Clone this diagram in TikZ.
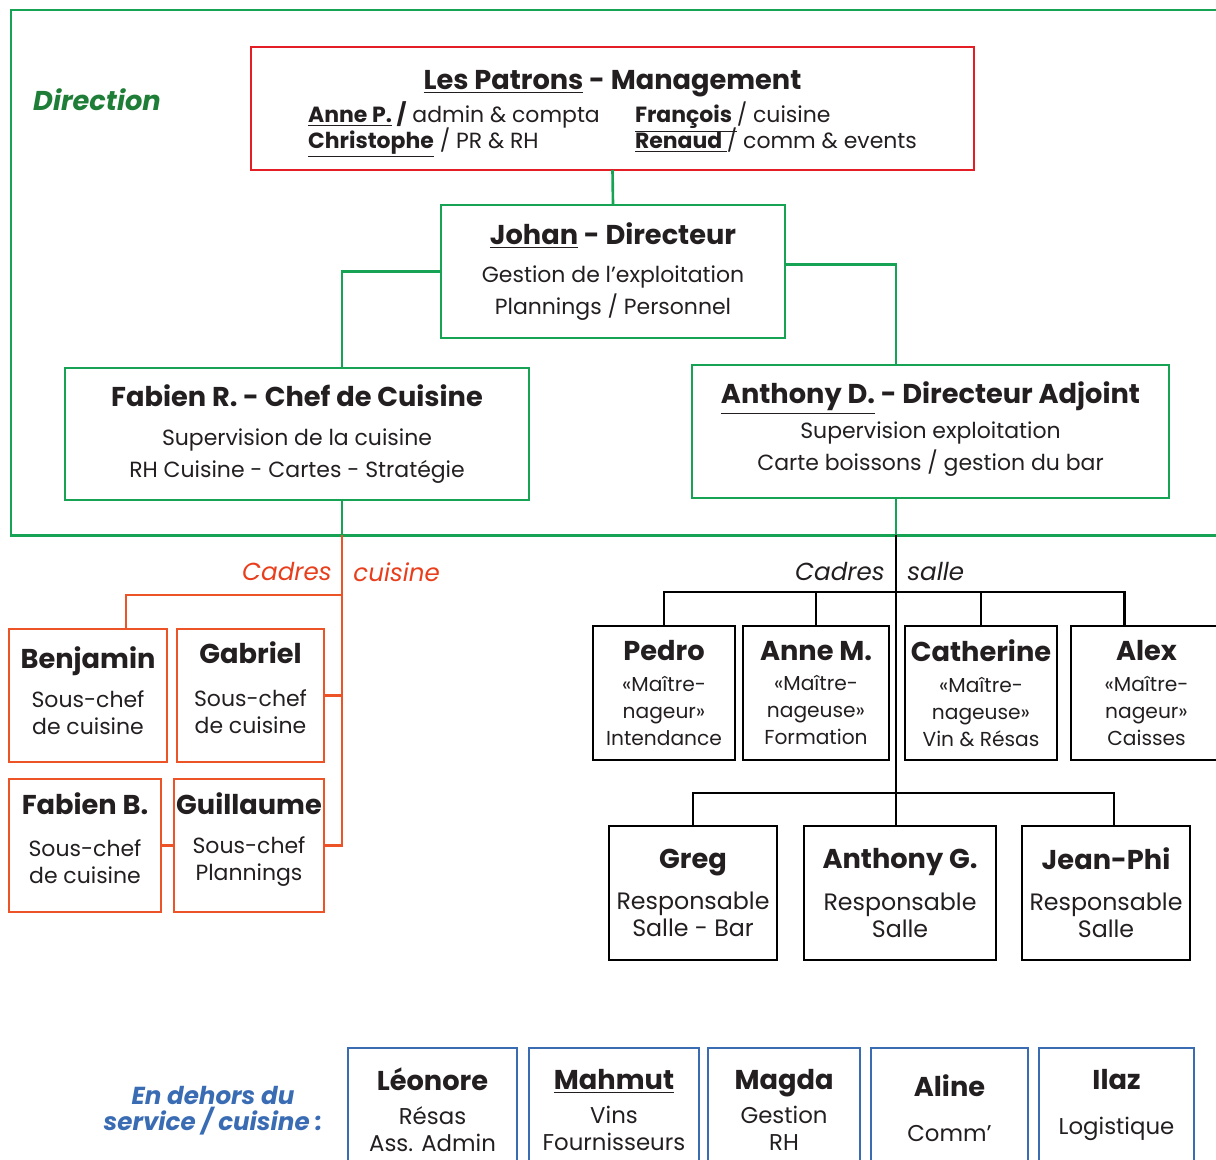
\documentclass[tikz,border=0pt]{standalone}
\usepackage{fontspec}
\setmainfont{Poppins}
\usetikzlibrary{calc}

\definecolor{dirgreen}{RGB}{22,163,84}
\definecolor{dirlabel}{RGB}{30,125,55}
\definecolor{patronred}{RGB}{227,30,36}
\definecolor{cuisred}{RGB}{236,84,40}
\definecolor{cuislabel}{RGB}{232,62,28}
\definecolor{horsblue}{RGB}{58,108,180}
\definecolor{textgray}{RGB}{35,31,32}

\newcommand{\boxtitle}[1]{{\fontsize{15.5}{18}\selectfont\bfseries #1}}

\begin{document}
\begin{tikzpicture}[x=0.02cm, y=-0.02cm,
  boxsize/.style 2 args={minimum width=#1*0.02cm, minimum height=#2*0.02cm},
  orgbox/.style={draw, line width=1.6pt, inner sep=0pt, outer sep=0pt, align=center,
    text=textgray, font=\fontsize{12.5}{15.4}\selectfont},
  dirbox/.style={orgbox, draw=dirgreen, font=\fontsize{12.5}{18}\selectfont},
  cuisbox/.style={orgbox, draw=cuisred},
  sallebox/.style={orgbox, draw=black},
  horsbox/.style={orgbox, draw=horsblue, font=\fontsize{13}{15.4}\selectfont},
  dirline/.style={draw=dirgreen, line width=1.5pt},
  cuisline/.style={draw=cuisred, line width=1.5pt},
  salleline/.style={draw=black, line width=1.5pt},
  sectlabel/.style={inner sep=0pt, font=\fontsize{14}{16}\selectfont\itshape}]
\useasboundingbox (0,0) rectangle (1216,1159);
\clip (0,0) rectangle (1216,1159);

\draw[dirline, line width=1.7pt] (11,10) rectangle (1240,535);
\node[sectlabel, text=dirlabel, font=\fontsize{15.5}{18}\selectfont\bfseries\itshape] (direction) at (97,100) {Direction};

\node[dirbox, draw=patronred, font=\fontsize{12.5}{15}\selectfont, boxsize={723}{123}] (patrons) at (612.5,108.5)
  {\rule{0pt}{17.5pt}\boxtitle{\underline{Les Patrons} - Management}\\[1.5pt]
   \begin{tabular}[t]{@{}l@{\hspace{20pt}}l@{}}
   \textbf{\underline{Anne P.} /} admin \& compta & \textbf{\underline{François\ }}/ cuisine\\[-2.5pt]
   \textbf{\underline{Christophe}} / PR \& RH & \textbf{\underline{Renaud\ }}/ comm \& events
   \end{tabular}};
\node[dirbox, boxsize={344}{133}] (johan) at (613,271.5)
  {\boxtitle{\underline{Johan} - Directeur}\\[4pt] Gestion de l’exploitation\\ Plannings / Personnel};
\node[dirbox, boxsize={464}{132}] (fabienR) at (297,434)
  {\boxtitle{Fabien R. - Chef de Cuisine}\\[4pt] Supervision de la cuisine\\ RH Cuisine - Cartes - Stratégie};
\node[dirbox, boxsize={477}{133}] (anthonyD) at (930.5,431.5)
  {\boxtitle{\underline{Anthony D.} - Directeur Adjoint}\\[2pt] Supervision exploitation\\ Carte boissons / gestion du bar\\[-12pt]};

\coordinate (cuisx) at (342,535);
\coordinate (cuisbar) at (342,595);
\coordinate (sallex) at (896,535);
\coordinate (sallebar) at (896,592);
\coordinate (sallebar2) at (896,793);

\draw[dirline] (patrons.south) -- (johan.north);
\draw[dirline] (johan.west) -| (fabienR.north -| cuisx);
\draw[dirline] ($(johan.east)+(0,-7)$) -| (anthonyD.north -| sallex);
\draw[dirline] (fabienR.south -| cuisx) -- (cuisx);
\draw[dirline] (anthonyD.south -| sallex) -- (sallex);

\node[sectlabel, text=cuislabel, anchor=east] (cadresC) at (332,572) {Cadres};
\node[sectlabel, text=cuislabel, anchor=west] (cuisineC) at (353,572) {cuisine};

\node[cuisbox, boxsize={158}{133}] (benjamin) at (88,695.5)
  {\boxtitle{Benjamin}\\[7pt] Sous-chef\\ de cuisine\\[-9.5pt]};
\node[cuisbox, boxsize={147}{133}] (gabriel) at (250.5,695.5)
  {\boxtitle{Gabriel}\\[9pt] Sous-chef\\ de cuisine\\[-6pt]};
\node[cuisbox, boxsize={152}{133}] (fabienB) at (85,845.5)
  {\boxtitle{Fabien B.}\\[8.5pt] Sous-chef\\ de cuisine\\[-7pt]};
\node[cuisbox, boxsize={150}{133}] (guillaume) at (249,845.5)
  {\boxtitle{Guillaume}\\[7pt] Sous-chef\\ Plannings\\[-5pt]};

\draw[cuisline] (cuisx) -- (guillaume.east -| cuisx) -- (guillaume.east);
\draw[cuisline] (cuisbar) -| ($(benjamin.north)+(38,0)$);
\draw[cuisline] (gabriel.east) -- (gabriel.east -| cuisx);
\draw[cuisline] (fabienB.east) -- (guillaume.west);

\node[sectlabel, text=textgray, anchor=east] (cadresS) at (885,572) {Cadres};
\node[sectlabel, text=textgray, anchor=west] (salleS) at (907,572) {salle};

\node[sallebox, font=\fontsize{11.5}{15.4}\selectfont, boxsize={142}{134}] (pedro) at (664,693)
  {\boxtitle{Pedro}\\[2pt] «Maître-\\ nageur»\\ Intendance};
\node[sallebox, font=\fontsize{11.5}{15.4}\selectfont, boxsize={146}{134}] (anneM) at (816,693)
  {\boxtitle{Anne M.}\\[2pt] «Maître-\\ nageuse»\\ Formation};
\node[sallebox, font=\fontsize{11.5}{15.4}\selectfont, boxsize={152}{134}] (catherine) at (981,693)
  {\boxtitle{Catherine}\\[2pt] «Maître-\\ nageuse»\\ Vin \& Résas};
\node[sallebox, font=\fontsize{11.5}{15.4}\selectfont, boxsize={151}{134}] (alex) at (1146.5,693)
  {\boxtitle{Alex}\\[2pt] «Maître-\\ nageur»\\ Caisses};

\node[sallebox, font=\fontsize{13.5}{15.4}\selectfont, boxsize={168}{134}] (greg) at (693,893)
  {\boxtitle{Greg}\\[8pt] Responsable\\ Salle - Bar};
\node[sallebox, font=\fontsize{13.5}{15.4}\selectfont, boxsize={192}{134}] (anthonyG) at (900,893)
  {\boxtitle{Anthony G.}\\[8pt] Responsable\\ Salle};
\node[sallebox, font=\fontsize{13.5}{15.4}\selectfont, boxsize={168}{134}] (jeanPhi) at (1106,893)
  {\boxtitle{Jean-Phi}\\[8pt] Responsable\\ Salle};

\draw[salleline] (sallex) -- (sallex |- anthonyG.north);
\foreach \who in {pedro, anneM, catherine}
  \draw[salleline] (\who.north) |- (sallebar);
\draw[salleline] ($(alex.north)+(-22,0)$) |- (sallebar);
\draw[salleline] (greg.north) |- (sallebar2);
\draw[salleline] ($(jeanPhi.north)+(8,0)$) |- (sallebar2);

\node[inner sep=0pt, align=center, text=horsblue, font=\fontsize{14}{15}\selectfont\bfseries\itshape] (horsservice) at (213,1111)
  {En dehors du\\ service / cuisine :};

\node[horsbox, boxsize={169}{124}] (leonore) at (432.5,1110)
  {\boxtitle{Léonore}\\[4pt] Résas\\ Ass. Admin};
\node[horsbox, boxsize={170}{124}] (mahmut) at (614,1110)
  {\boxtitle{\underline{Mahmut}}\\[4pt] Vins\\ Fournisseurs};
\node[horsbox, boxsize={152}{124}] (magda) at (784,1110)
  {\boxtitle{Magda}\\[4pt] Gestion\\ RH};
\node[horsbox, boxsize={157}{120}] (aline) at (949.5,1108)
  {\boxtitle{Aline}\\[10pt] Comm’};
\node[horsbox, boxsize={155}{114}] (ilaz) at (1116.5,1105)
  {\boxtitle{Ilaz}\\[10pt] Logistique};
\end{tikzpicture}
\end{document}
